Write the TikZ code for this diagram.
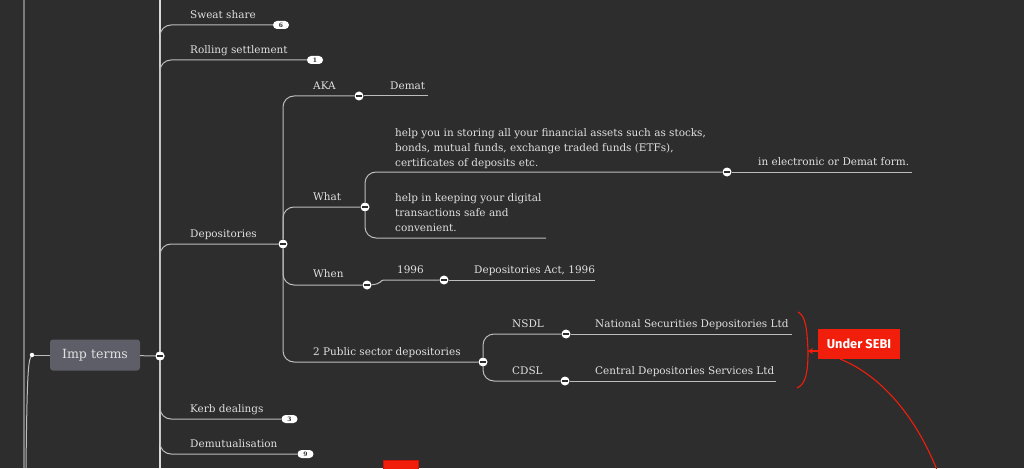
\documentclass[tikz,border=0pt]{standalone}
\usepackage{fontspec}
\setmainfont{DejaVu Serif}
\newfontfamily\sebifont{Fira Sans}
\usetikzlibrary{arrows.meta}
\definecolor{bg}{HTML}{2D2D2D}
\definecolor{ln}{HTML}{BDBDBD}
\definecolor{trunkc}{HTML}{DADADA}
\definecolor{leftc}{HTML}{7A7A7A}
\definecolor{txt}{HTML}{E0E0E0}
\definecolor{sebired}{HTML}{F01E0A}
\definecolor{imp}{HTML}{5E5E68}
\begin{document}
\begin{tikzpicture}[x=1pt,y=-1pt,
 conn/.style={draw=ln, line width=1pt, rounded corners=11pt},
 lbl/.style={anchor=base west, inner sep=0pt, text=txt, font=\fontsize{10.45}{15}\selectfont},
 blk/.style={lbl, align=left},
 coll/.style={circle, fill=white, inner sep=0pt, minimum size=9pt,
   path picture={\draw[bg, line width=1.5pt] ([xshift=-2.6pt]path picture bounding box.center) -- ([xshift=2.6pt]path picture bounding box.center);}},
 badge/.style={rounded corners=4pt, fill=white, minimum width=16pt, minimum height=8pt, inner sep=0pt, text=bg, font=\bfseries\fontsize{6}{6}\selectfont},
 redln/.style={draw=sebired, line width=1.1pt},
]
\useasboundingbox (0,0) rectangle (1024,468);
\fill[bg] (0,0) rectangle (1024,468);
\clip (0,0) rectangle (1024,468);

% left lines
\coordinate (ltop) at (24,0);
\coordinate (lbot) at (24,468);
\draw[leftc, line width=1.2pt] (ltop) -- (lbot);
\node[circle, fill=white, inner sep=0pt, minimum size=4.5pt] (dot) at (32,355) {};
\coordinate (dotbot) at (26,468);
\draw[ln, line width=1pt] (dot) .. controls (28,362) and (27,380) .. (dotbot);

% root
\node[fill=imp, rounded corners=3pt, minimum width=90pt, minimum height=31pt, inner sep=0pt,
  text=txt, font=\fontsize{12.6}{16}\selectfont] (imp) at (95,355) {Imp terms};
\draw[ln, line width=1pt] (dot) -- (imp);
\node[coll] (root) at (160,356) {};
\draw[ln, line width=1pt] (imp) -- (root);
\coordinate (ttop) at (160,0);
\coordinate (tbot) at (160,468);
\draw[trunkc, line width=1.5pt] (ttop) -- (tbot);
\node[coll] at (160,356) {};

% first-level leaves
\node[badge] (b6) at (281,25) {6};
\node[lbl] (sweat) at (190,18.5) {Sweat share};
\draw[conn] (root) |- (b6);
\node[badge] (b1) at (315,60) {1};
\node[lbl] (roll) at (190,53.5) {Rolling settlement};
\draw[conn] (root) |- (b1);
\node[badge] (b3) at (289.5,419) {3};
\node[lbl] (kerb) at (190,412.5) {Kerb dealings};
\draw[conn] (root) |- (b3);
\node[badge] (b9) at (305.5,454) {9};
\node[lbl] (demut) at (190,447.5) {Demutualisation};
\draw[conn] (root) |- (b9);

% Depositories
\node[coll] (dep) at (283,244) {};
\node[lbl] (deplbl) at (190,237.5) {Depositories};
\draw[conn] (root) |- (dep);

% AKA
\node[coll] (aka) at (359,96) {};
\node[lbl] (akalbl) at (313,89.5) {AKA};
\draw[conn] (dep) |- (aka);
\coordinate (demend) at (428,96);
\node[lbl] (demat) at (390,89.5) {Demat};
\draw[conn] (aka) -- (demend);

% What
\node[coll] (what) at (365,207) {};
\node[lbl] (whatlbl) at (313,200.5) {What};
\draw[conn] (dep) |- (what);
\node[coll] (fin) at (727,172) {};
\node[blk] (fintxt) at (395,166) {help you in storing all your financial assets such as stocks,\\bonds, mutual funds, exchange traded funds (ETFs),\\certificates of deposits etc.};
\draw[conn] (what) |- (fin);
\coordinate (finend) at (912,172);
\node[lbl] (elec) at (758,165.5) {in electronic or Demat form.};
\draw[conn] (fin) -- (finend);
\coordinate (safeend) at (546,238);
\node[blk] (safetxt) at (395,231) {help in keeping your digital\\transactions safe and\\convenient.};
\draw[conn] (what) |- (safeend);

% When
\node[coll] (when) at (367,285) {};
\node[lbl] (whenlbl) at (313,277.5) {When};
\draw[conn] (dep) |- (when);
\node[coll] (y96) at (444,280) {};
\node[lbl] (y96lbl) at (397,273.5) {1996};
\coordinate (wmid) at (395,280);
\draw[conn] (when) .. controls (382,284) and (380,280) .. (wmid) -- (y96);
\coordinate (actend) at (595,280);
\node[lbl] (act) at (474,273.5) {Depositories Act, 1996};
\draw[conn] (y96) -- (actend);

% Public sector
\node[coll] (pub) at (483,362) {};
\node[lbl] (publbl) at (313,355.5) {2 Public sector depositories};
\draw[conn] (dep) |- (pub);
\node[coll] (nsdl) at (566,334) {};
\node[lbl] (nsdllbl) at (512,327.5) {NSDL};
\draw[conn] (pub) |- (nsdl);
\node[coll] (cdsl) at (565,381) {};
\node[lbl] (cdsllbl) at (512,374.5) {CDSL};
\draw[conn] (pub) |- (cdsl);
\coordinate (nsdlend) at (792,334);
\node[lbl] (nsdlfull) at (595,327.5) {National Securities Depositories Ltd};
\draw[conn] (nsdl) -- (nsdlend);
\coordinate (cdslend) at (776,381);
\node[lbl] (cdslfull) at (595,374.5) {Central Depositories Services Ltd};
\draw[conn] (cdsl) -- (cdslend);

% Brace and SEBI
\coordinate (brtop) at (798,312);
\coordinate (brtip) at (808,351);
\coordinate (brbot) at (797,388);
\draw[redln] (brtop) .. controls (806,316) and (807,330) .. (brtip) .. controls (808,372) and (806,384) .. (brbot);
\node[fill=sebired, minimum width=82pt, minimum height=30pt, inner sep=0pt, text=white,
  font=\sebifont\bfseries\fontsize{12.8}{13}\selectfont] (sebi) at (859,344) {Under SEBI};
\draw[redln, -{Stealth[length=5pt,width=6pt]}] (sebi.west |- brtip) -- (brtip);
\coordinate (cstart) at (840,359);
\coordinate (cend) at (937,470);
\draw[redln] (cstart) .. controls (880,375) and (915,415) .. (cend);

% bottom red block
\node[fill=sebired, draw={rgb,255:red,200;green,20;blue,10}, minimum width=35pt, minimum height=14pt, inner sep=0pt, anchor=north west] (redblk) at (383,460) {};
\end{tikzpicture}
\end{document}
